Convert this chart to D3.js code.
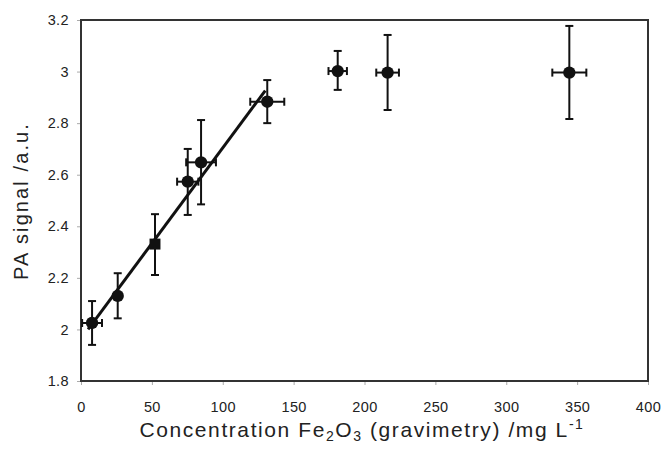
<!DOCTYPE html>
<html>
<head>
<meta charset="utf-8">
<script src="https://cdn.jsdelivr.net/npm/d3@7"></script>
<style>
  body { margin: 0; background: #fff; }
  text { font-family: "Liberation Sans", Arial, sans-serif; fill: #222; }
</style>
</head>
<body>
<div id="chart"></div>
<script>
// data
var conc    = [7.8, 25.9, 52.2, 75.3, 84.7, 131.4, 181.1, 216.3, 344.5];
var concErr = [7, 0, 0, 7.5, 10.5, 12, 6.5, 8, 12];
var signal  = [2.025, 2.13, 2.331, 2.573, 2.648, 2.883, 3.002, 2.996, 2.996];
var sigLow  = [1.94, 2.043, 2.211, 2.444, 2.485, 2.80, 2.929, 2.851, 2.816];
var sigHigh = [2.11, 2.218, 2.447, 2.70, 2.812, 2.967, 3.08, 3.142, 3.177];
var marker  = ["circle", "circle", "square", "circle", "circle", "circle", "circle", "circle", "circle"];

var fitSlope = 0.00741, fitIntercept = 1.963, fitRange = [5, 130];

var xTicks = [0, 50, 100, 150, 200, 250, 300, 350, 400];
var yTicks = [1.8, 2, 2.2, 2.4, 2.6, 2.8, 3, 3.2];

var width = 663, height = 459;
var margin = {left: 81, right: 15, top: 20, bottom: 78};

var svg = d3.select("#chart").append("svg")
    .attr("width", width)
    .attr("height", height);

var x = d3.scaleLinear().domain([0, 400]).range([margin.left, width - margin.right]);
var y = d3.scaleLinear().domain([1.8, 3.2]).range([height - margin.bottom, margin.top]);

var data = conc.map(function (c, i) {
    return {x: c, xe: concErr[i], y: signal[i], lo: sigLow[i], hi: sigHigh[i], m: marker[i]};
});

// axes
var xAxis = svg.append("g")
    .attr("transform", "translate(0," + y(1.8) + ")")
    .call(d3.axisBottom(x).tickValues(xTicks).tickSize(4).tickPadding(17).tickFormat(d3.format("d")));
var yAxis = svg.append("g")
    .attr("transform", "translate(" + x(0) + ",0)")
    .call(d3.axisLeft(y).tickValues(yTicks).tickSize(4).tickPadding(8).tickFormat(function (d) { return d3.format("")(+d.toFixed(1)); }));

[xAxis, yAxis].forEach(function (g) {
    g.select(".domain").remove();
    g.selectAll(".tick line").attr("stroke", "#aaa");
    g.selectAll(".tick text").style("font-size", "14.5px").style("letter-spacing", "0.4px").attr("fill", "#2a2a2a");
});

// frame
svg.append("rect")
    .attr("x", x(0)).attr("y", y(3.2))
    .attr("width", x(400) - x(0)).attr("height", y(1.8) - y(3.2))
    .attr("fill", "none").attr("stroke", "#333").attr("stroke-width", 2);

// fit line
svg.append("line")
    .attr("x1", x(fitRange[0])).attr("y1", y(fitIntercept + fitSlope * fitRange[0]))
    .attr("x2", x(fitRange[1])).attr("y2", y(fitIntercept + fitSlope * fitRange[1]))
    .attr("stroke", "#111").attr("stroke-width", 3);

var cap = 4;
var pts = svg.append("g").selectAll("g").data(data).enter().append("g")
    .attr("stroke", "#111").attr("stroke-width", 2);

// vertical error bars
pts.append("line")
    .attr("x1", function (d) { return x(d.x); }).attr("x2", function (d) { return x(d.x); })
    .attr("y1", function (d) { return y(d.lo); }).attr("y2", function (d) { return y(d.hi); });
pts.append("line")
    .attr("x1", function (d) { return x(d.x) - cap; }).attr("x2", function (d) { return x(d.x) + cap; })
    .attr("y1", function (d) { return y(d.hi); }).attr("y2", function (d) { return y(d.hi); });
pts.append("line")
    .attr("x1", function (d) { return x(d.x) - cap; }).attr("x2", function (d) { return x(d.x) + cap; })
    .attr("y1", function (d) { return y(d.lo); }).attr("y2", function (d) { return y(d.lo); });

// horizontal error bars
var xe = pts.filter(function (d) { return d.xe > 0; });
xe.append("line")
    .attr("x1", function (d) { return x(d.x - d.xe); }).attr("x2", function (d) { return x(d.x + d.xe); })
    .attr("y1", function (d) { return y(d.y); }).attr("y2", function (d) { return y(d.y); });
xe.append("line")
    .attr("x1", function (d) { return x(d.x - d.xe); }).attr("x2", function (d) { return x(d.x - d.xe); })
    .attr("y1", function (d) { return y(d.y) - cap; }).attr("y2", function (d) { return y(d.y) + cap; });
xe.append("line")
    .attr("x1", function (d) { return x(d.x + d.xe); }).attr("x2", function (d) { return x(d.x + d.xe); })
    .attr("y1", function (d) { return y(d.y) - cap; }).attr("y2", function (d) { return y(d.y) + cap; });

// markers
pts.append("path")
    .attr("transform", function (d) { return "translate(" + x(d.x) + "," + y(d.y) + ")"; })
    .attr("d", function (d) {
        var sym = d.m === "square" ? d3.symbolSquare : d3.symbolCircle;
        return d3.symbol().type(sym).size(120)();
    })
    .attr("fill", "#111").attr("stroke", "none");

// stretch a title to the width it has in the figure
function fitWidth(t, target) {
    var n = t.text().length;
    var w = t.node().getComputedTextLength();
    t.style("letter-spacing", ((target - w) / n) + "px");
}

// axis titles
var xt = svg.append("text")
    .attr("x", 362).attr("y", 437)
    .attr("text-anchor", "middle").style("font-size", "21px");
xt.append("tspan").text("Concentration Fe");
xt.append("tspan").attr("baseline-shift", "-25%").style("font-size", "14px").text("2");
xt.append("tspan").text("O");
xt.append("tspan").attr("baseline-shift", "-25%").style("font-size", "14px").text("3");
xt.append("tspan").text(" (gravimetry) /mg L");
xt.append("tspan").attr("baseline-shift", "super").style("font-size", "14px").text("-1");
fitWidth(xt, 445);

var yt = svg.append("text")
    .attr("transform", "translate(28,201) rotate(-90)")
    .attr("text-anchor", "middle").style("font-size", "20px")
    .text("PA signal /a.u.");
fitWidth(yt, 158);
</script>
</body>
</html>
